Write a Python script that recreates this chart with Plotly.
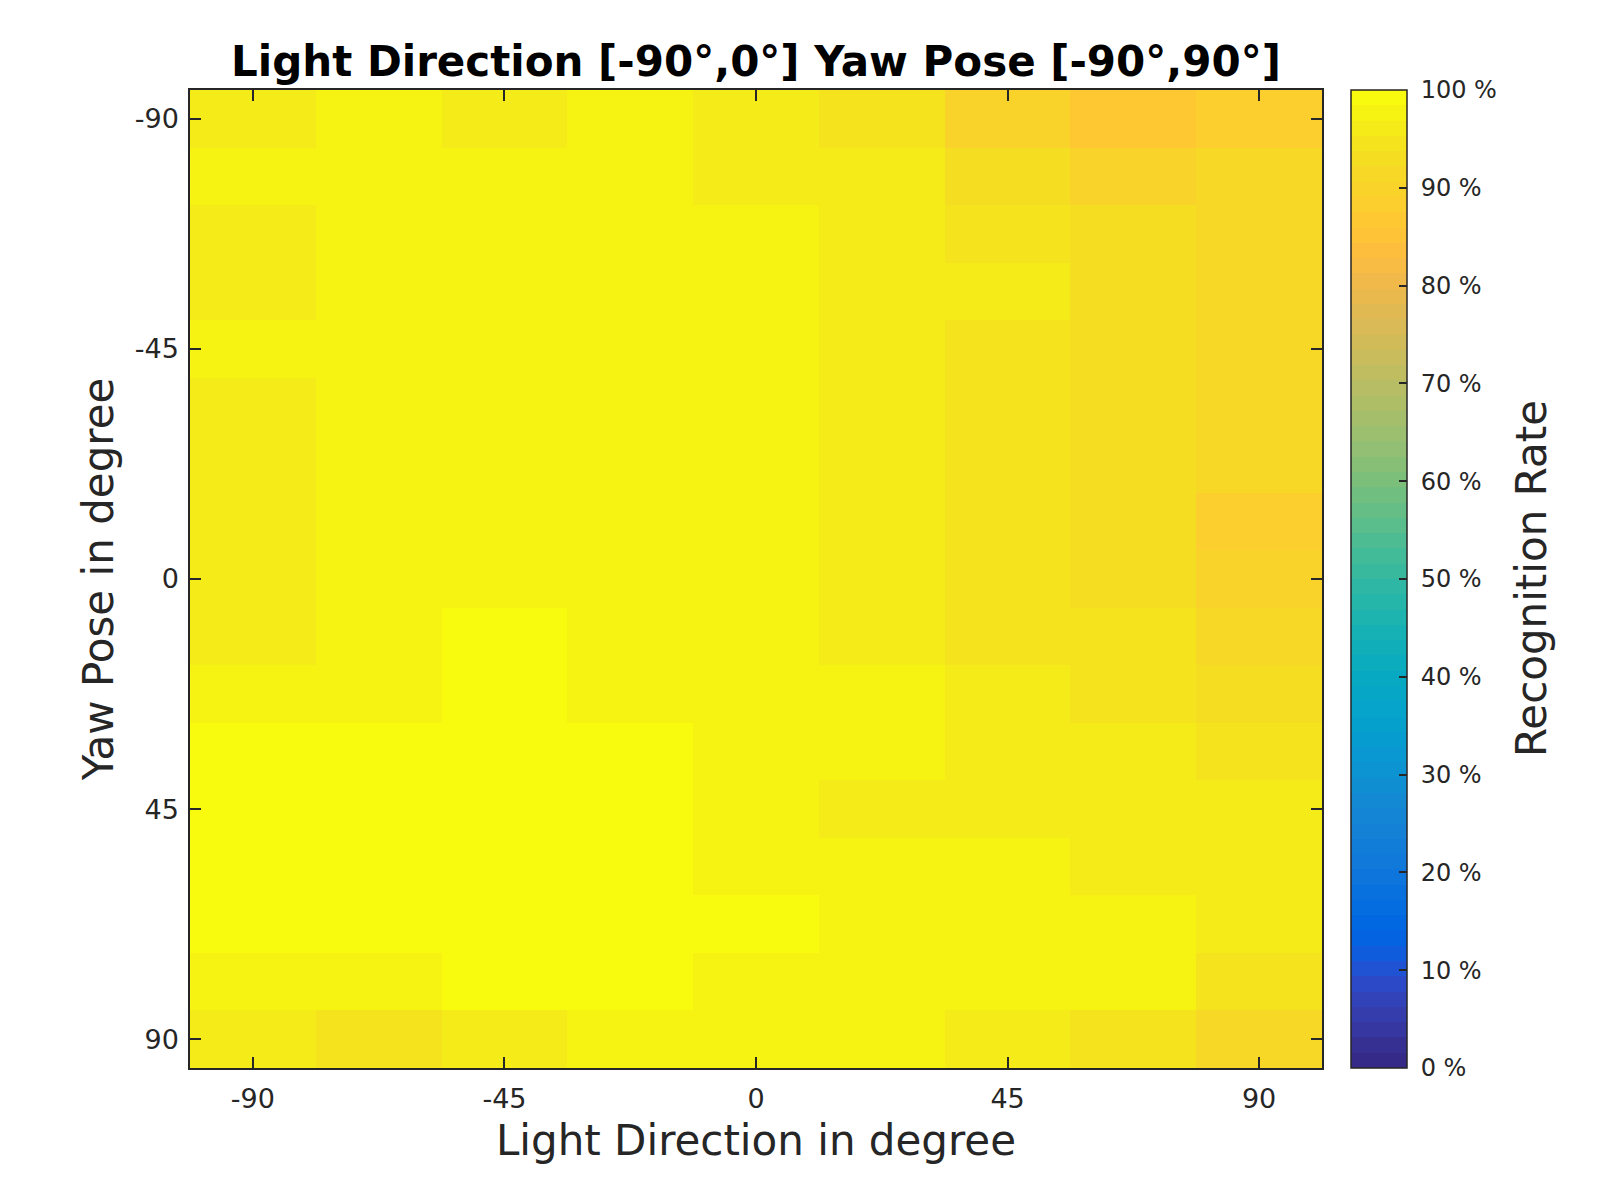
import plotly.graph_objects as go

# ---- data ----
light_direction = [-90, -67.5, -45, -22.5, 0, 22.5, 45, 67.5, 90]
yaw_pose = [-90, -78.75, -67.5, -56.25, -45, -33.75, -22.5, -11.25, 0,
            11.25, 22.5, 33.75, 45, 56.25, 67.5, 78.75, 90]

# recognition rate (%) — rows: yaw pose (top -90 -> bottom 90), cols: light direction
r00 = [96.1, 97.6, 96.1, 97.6, 96.1, 94.5, 89.8, 86.7, 88.3]
r01 = [97.6, 97.6, 97.6, 97.6, 96.1, 96.1, 93.0, 89.8, 91.4]
r02 = [96.1, 97.6, 97.6, 97.6, 97.6, 96.1, 94.5, 93.0, 91.4]
r03 = [96.1, 97.6, 97.6, 97.6, 97.6, 96.1, 96.1, 93.0, 91.4]
r04 = [97.6, 97.6, 97.6, 97.6, 97.6, 96.1, 94.5, 93.0, 91.4]
r05 = [96.1, 97.6, 97.6, 97.6, 97.6, 96.1, 94.5, 93.0, 91.4]
r06 = [96.1, 97.6, 97.6, 97.6, 97.6, 96.1, 94.5, 93.0, 91.4]
r07 = [96.1, 97.6, 97.6, 97.6, 97.6, 96.1, 94.5, 93.0, 88.3]
r08 = [96.1, 97.6, 97.6, 97.6, 97.6, 96.1, 94.5, 93.0, 89.8]
r09 = [96.1, 97.6, 99.2, 97.6, 97.6, 96.1, 94.5, 94.5, 91.4]
r10 = [97.6, 97.6, 99.2, 97.6, 97.6, 97.6, 96.1, 94.5, 93.0]
r11 = [99.2, 99.2, 99.2, 99.2, 97.6, 97.6, 96.1, 96.1, 94.5]
r12 = [99.2, 99.2, 99.2, 99.2, 97.6, 96.1, 96.1, 96.1, 96.1]
r13 = [99.2, 99.2, 99.2, 99.2, 97.6, 97.6, 97.6, 96.1, 96.1]
r14 = [99.2, 99.2, 99.2, 99.2, 99.2, 97.6, 97.6, 97.6, 96.1]
r15 = [97.6, 97.6, 99.2, 99.2, 97.6, 97.6, 97.6, 97.6, 94.5]
r16 = [96.1, 94.5, 96.1, 97.6, 97.6, 97.6, 96.1, 94.5, 91.4]
rates = [r00, r01, r02, r03, r04, r05, r06, r07, r08, r09, r10, r11, r12, r13, r14, r15, r16]

tick_vals = [-90, -45, 0, 45, 90]
tick_text = ["-90", "-45", "0", "45", "90"]
cbar_vals = [0, 10, 20, 30, 40, 50, 60, 70, 80, 90, 100]
cbar_text = ["0 %", "10 %", "20 %", "30 %", "40 %", "50 %", "60 %", "70 %", "80 %", "90 %", "100 %"]

# MATLAB parula(64)
parula = [
    (0.2081, 0.1663, 0.5292), (0.2116, 0.1898, 0.5777), (0.2123, 0.2138, 0.6270), (0.2081, 0.2386, 0.6771),
    (0.1959, 0.2645, 0.7279), (0.1707, 0.2919, 0.7792), (0.1253, 0.3242, 0.8303), (0.0591, 0.3598, 0.8683),
    (0.0117, 0.3875, 0.8820), (0.0060, 0.4086, 0.8828), (0.0165, 0.4266, 0.8786), (0.0329, 0.4430, 0.8720),
    (0.0498, 0.4586, 0.8641), (0.0629, 0.4737, 0.8554), (0.0723, 0.4887, 0.8467), (0.0779, 0.5040, 0.8384),
    (0.0793, 0.5200, 0.8312), (0.0749, 0.5375, 0.8263), (0.0641, 0.5570, 0.8240), (0.0488, 0.5772, 0.8228),
    (0.0343, 0.5966, 0.8199), (0.0265, 0.6137, 0.8135), (0.0239, 0.6287, 0.8038), (0.0231, 0.6418, 0.7913),
    (0.0228, 0.6535, 0.7768), (0.0267, 0.6642, 0.7607), (0.0384, 0.6743, 0.7436), (0.0590, 0.6838, 0.7254),
    (0.0843, 0.6928, 0.7062), (0.1133, 0.7015, 0.6859), (0.1453, 0.7098, 0.6646), (0.1801, 0.7177, 0.6424),
    (0.2178, 0.7250, 0.6193), (0.2586, 0.7317, 0.5954), (0.3022, 0.7376, 0.5712), (0.3482, 0.7424, 0.5473),
    (0.3953, 0.7459, 0.5244), (0.4420, 0.7481, 0.5033), (0.4871, 0.7491, 0.4840), (0.5300, 0.7491, 0.4661),
    (0.5709, 0.7485, 0.4494), (0.6099, 0.7473, 0.4337), (0.6473, 0.7456, 0.4188), (0.6834, 0.7435, 0.4044),
    (0.7184, 0.7411, 0.3905), (0.7525, 0.7384, 0.3768), (0.7858, 0.7356, 0.3633), (0.8185, 0.7327, 0.3498),
    (0.8507, 0.7299, 0.3360), (0.8824, 0.7274, 0.3217), (0.9139, 0.7258, 0.3063), (0.9450, 0.7261, 0.2886),
    (0.9739, 0.7314, 0.2666), (0.9938, 0.7455, 0.2403), (0.9990, 0.7653, 0.2164), (0.9955, 0.7861, 0.1967),
    (0.9880, 0.8066, 0.1794), (0.9789, 0.8271, 0.1633), (0.9697, 0.8481, 0.1475), (0.9626, 0.8705, 0.1309),
    (0.9589, 0.8949, 0.1132), (0.9598, 0.9218, 0.0948), (0.9661, 0.9514, 0.0755), (0.9763, 0.9831, 0.0538),
]
n = len(parula)
colorscale = []
for k, (r, g, b) in enumerate(parula):
    c = "rgb(%d,%d,%d)" % (round(r * 255), round(g * 255), round(b * 255))
    colorscale.append([k / n, c])
    colorscale.append([(k + 1) / n, c])

axis_color = "#262626"
font_family = "DejaVu Sans"

W, H = 1600, 1200
L, T = 182, 82
plot_right, plot_bottom = 1314, 1060
R, B = W - plot_right, H - plot_bottom
pw = plot_right - L

fig = go.Figure(go.Heatmap(
    x=light_direction, y=yaw_pose, z=rates,
    zmin=0, zmax=100, colorscale=colorscale,
    colorbar=dict(
        tickmode="array", tickvals=cbar_vals,
        ticktext=["\u00a0" + t for t in cbar_text],
        ticks="inside", ticklen=8, tickwidth=1.5, tickcolor=axis_color,
        tickfont=dict(family=font_family, size=24, color=axis_color),
        outlinecolor=axis_color, outlinewidth=1.5,
        thickness=56, thicknessmode="pixels",
        len=1, lenmode="fraction", y=0.5, yanchor="middle",
        x=(1343 - L) / pw, xanchor="left", xpad=0, ypad=0,
    ),
    hoverongaps=False,
))

fig.update_layout(
    width=W, height=H,
    margin=dict(l=L, r=R, t=T, b=B),
    paper_bgcolor="white", plot_bgcolor="white",
    font=dict(family=font_family, color=axis_color),
    title=dict(text="<b>Light Direction [-90°,0°] Yaw Pose [-90°,90°]</b>",
               x=0.5, xref="paper", xanchor="center",
               y=1 - 53 / H, yref="container", yanchor="middle",
               font=dict(family=font_family, size=42, color="black")),
    annotations=[dict(
        text="Recognition Rate", textangle=-90, showarrow=False,
        xref="paper", yref="paper", x=(1523 - L) / pw, y=0.5,
        xanchor="center", yanchor="middle",
        font=dict(family=font_family, size=42, color=axis_color),
    )],
)
fig.update_xaxes(
    range=[-101.25, 101.25], tickmode="array", tickvals=tick_vals, ticktext=tick_text,
    ticks="inside", ticklen=11, tickwidth=1.5, tickcolor=axis_color,
    showline=True, linecolor=axis_color, linewidth=1.5, mirror="ticks",
    showgrid=False, zeroline=False,
    tickfont=dict(family=font_family, size=27, color=axis_color),
    ticklabelstandoff=6,
    title=dict(text="Light Direction in degree", standoff=12,
               font=dict(family=font_family, size=42, color=axis_color)),
)
fig.update_yaxes(
    range=[95.625, -95.625], tickmode="array", tickvals=tick_vals, ticktext=tick_text,
    ticks="inside", ticklen=11, tickwidth=1.5, tickcolor=axis_color,
    showline=True, linecolor=axis_color, linewidth=1.5, mirror="ticks",
    showgrid=False, zeroline=False,
    tickfont=dict(family=font_family, size=27, color=axis_color),
    ticklabelstandoff=4,
    title=dict(text="Yaw Pose in degree", standoff=8,
               font=dict(family=font_family, size=42, color=axis_color)),
)

fig.write_html("out.html")
